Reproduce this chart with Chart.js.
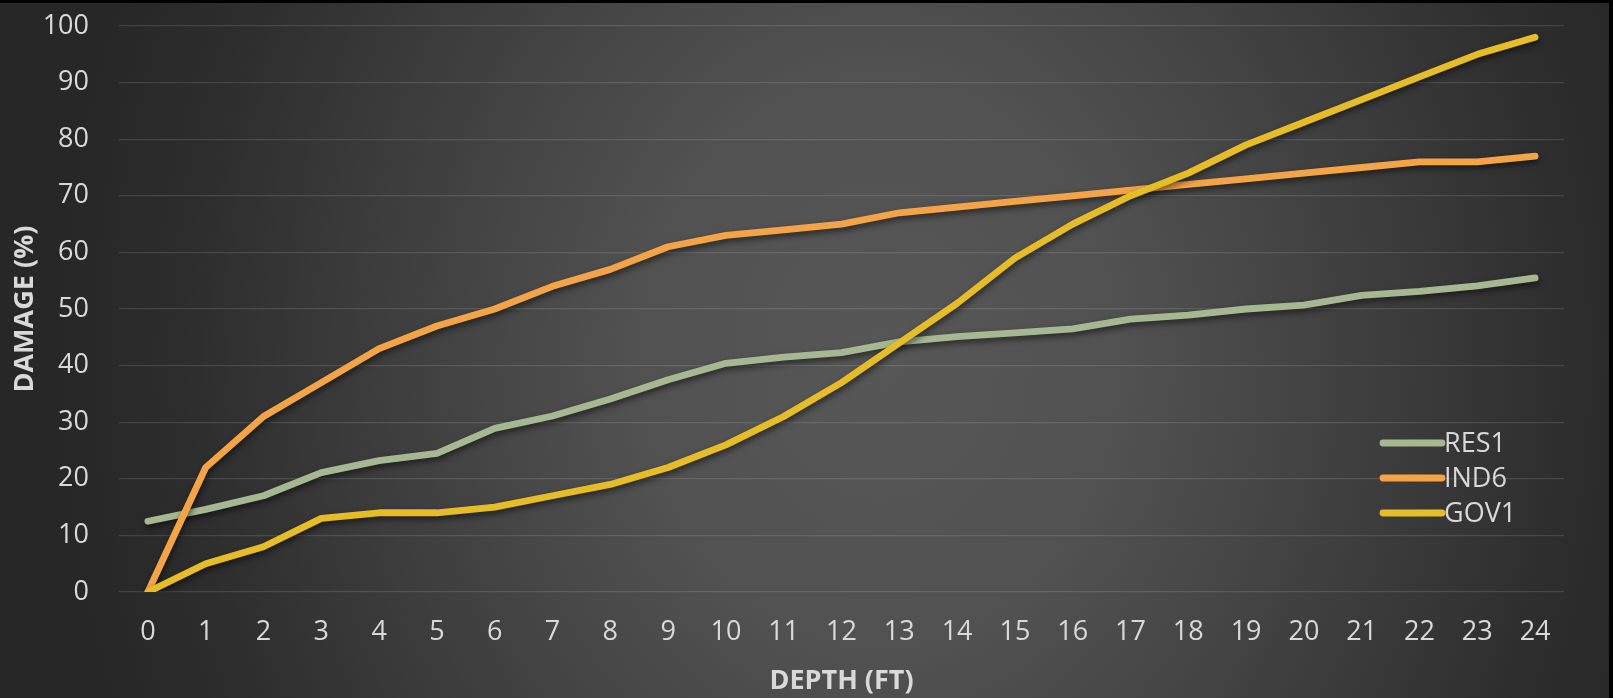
<!DOCTYPE html>
<html>
<head>
<meta charset="utf-8">
<script src="https://cdn.jsdelivr.net/npm/chart.js@4.4.1/dist/chart.umd.min.js"></script>
<style>
  html, body { margin: 0; padding: 0; background: #000; overflow: hidden; }
  #wrap { width: 1613px; height: 698px; }
</style>
</head>
<body>
<div id="wrap"><canvas id="c" width="1613" height="698"></canvas></div>
<script>
// Depth (ft) categories and damage (%) curves
const depths = ['0','1','2','3','4','5','6','7','8','9','10','11','12','13','14','15','16','17','18','19','20','21','22','23','24'];
const res1 = [12.5, 14.6, 17.0, 21.1, 23.2, 24.5, 28.9, 31.1, 34.1, 37.5, 40.4, 41.5, 42.3, 44.2, 45.1, 45.8, 46.5, 48.2, 48.9, 50.0, 50.7, 52.4, 53.1, 54.1, 55.5];
const ind6 = [0, 22, 31, 37, 43, 47, 50, 54, 57, 61, 63, 64, 65, 67, 68, 69, 70, 71, 72, 73, 74, 75, 76, 76, 77];
const gov1 = [0, 5, 8, 13, 14, 14, 15, 17, 19, 22, 26, 31, 37, 44, 51, 59, 65, 70, 74, 79, 83, 87, 91, 95, 98];
const yTicks = [0, 10, 20, 30, 40, 50, 60, 70, 80, 90, 100];

const seriesNames = ['RES1', 'IND6', 'GOV1'];
const seriesColors = ['#A6B892', '#F4A447', '#E7BD27'];

const FONT = '"Open Sans", "DejaVu Sans", sans-serif';
const TEXT = '#D9D9D9';

// Dark panel with a soft radial highlight in the middle
const panelBackground = {
  id: 'panelBackground',
  beforeDraw(chart) {
    const ctx = chart.ctx;
    const W = chart.width, H = chart.height;
    ctx.save();
    ctx.fillStyle = '#000';
    ctx.fillRect(0, 0, W, H);
    ctx.beginPath();
    ctx.rect(0, 3, W - 4, H - 3);
    ctx.clip();
    ctx.translate(880, 360);
    ctx.scale(1, 1.2);
    const g = ctx.createRadialGradient(0, 0, 0, 0, 0, 820);
    g.addColorStop(0, '#575757');
    g.addColorStop(0.3, '#515151');
    g.addColorStop(0.6, '#3e3e3e');
    g.addColorStop(0.85, '#2d2d2d');
    g.addColorStop(1, '#272727');
    ctx.fillStyle = g;
    ctx.fillRect(-1500, -1000, 3000, 2000);
    ctx.restore();
  }
};

// Soft drop shadow under each line
const lineShadow = {
  id: 'lineShadow',
  beforeDatasetDraw(chart) {
    const c = chart.ctx;
    c.save();
    c.shadowColor = 'rgba(0,0,0,0.55)';
    c.shadowBlur = 6;
    c.shadowOffsetX = 1;
    c.shadowOffsetY = 3;
  },
  afterDatasetDraw(chart) {
    chart.ctx.restore();
  }
};

// Legend drawn inside the plot area, lower right
const insideLegend = {
  id: 'insideLegend',
  afterDraw(chart) {
    const ctx = chart.ctx;
    const area = chart.chartArea;
    const x0 = area.right - 181;
    const x1 = x0 + 59;
    const yStart = area.bottom - 149;
    const rowGap = 35;
    ctx.save();
    ctx.font = '27px ' + FONT;
    ctx.textBaseline = 'middle';
    ctx.textAlign = 'left';
    chart.data.datasets.forEach((ds, i) => {
      const y = yStart + i * rowGap;
      ctx.strokeStyle = ds.borderColor;
      ctx.lineWidth = ds.borderWidth;
      ctx.lineCap = 'round';
      ctx.beginPath();
      ctx.moveTo(x0, y);
      ctx.lineTo(x1, y);
      ctx.stroke();
      ctx.fillStyle = TEXT;
      ctx.fillText(ds.label, x1 + 2, y + 1);
    });
    ctx.restore();
  }
};

const makeSet = (i, data, order) => ({
  label: seriesNames[i],
  data: data,
  borderColor: seriesColors[i],
  backgroundColor: seriesColors[i],
  borderWidth: 6.8,
  borderCapStyle: 'round',
  borderJoinStyle: 'round',
  pointRadius: 0,
  pointHoverRadius: 0,
  tension: 0,
  fill: false,
  order: order
});

new Chart(document.getElementById('c'), {
  type: 'line',
  data: {
    labels: depths,
    datasets: [
      makeSet(0, res1, 3),
      makeSet(1, ind6, 2),
      makeSet(2, gov1, 1)
    ]
  },
  options: {
    responsive: false,
    animation: false,
    devicePixelRatio: 1,
    layout: { padding: { left: 0, right: 49, top: 26, bottom: 0 } },
    plugins: {
      legend: { display: false },
      tooltip: { enabled: false }
    },
    scales: {
      x: {
        type: 'category',
        offset: true,
        grid: { display: false, drawTicks: false },
        border: { display: false },
        ticks: {
          color: TEXT,
          font: { family: FONT, size: 27 },
          padding: 24,
          maxRotation: 0,
          autoSkip: false
        },
        title: {
          display: true,
          text: 'DEPTH (FT)',
          color: TEXT,
          font: { family: FONT, size: 27, weight: 'bold' },
          padding: { top: 0, bottom: 0 }
        },
        afterFit(scale) { scale.height = 106; }
      },
      y: {
        min: 0,
        max: 100,
        afterBuildTicks(scale) { scale.ticks = yTicks.map(v => ({ value: v })); },
        grid: { color: 'rgba(255,255,255,0.12)', lineWidth: 1.3, drawTicks: false },
        border: { display: false },
        ticks: {
          color: TEXT,
          font: { family: FONT, size: 27 },
          padding: 30
        },
        title: {
          display: true,
          text: 'DAMAGE (%)',
          color: TEXT,
          font: { family: FONT, size: 27, weight: 'bold' },
          padding: { top: 9, bottom: 0 }
        },
        afterFit(scale) {
          scale.width = 119;
          scale.paddingTop = 0;
          scale.paddingBottom = 0;
        }
      }
    }
  },
  plugins: [panelBackground, lineShadow, insideLegend]
});
</script>
</body>
</html>
